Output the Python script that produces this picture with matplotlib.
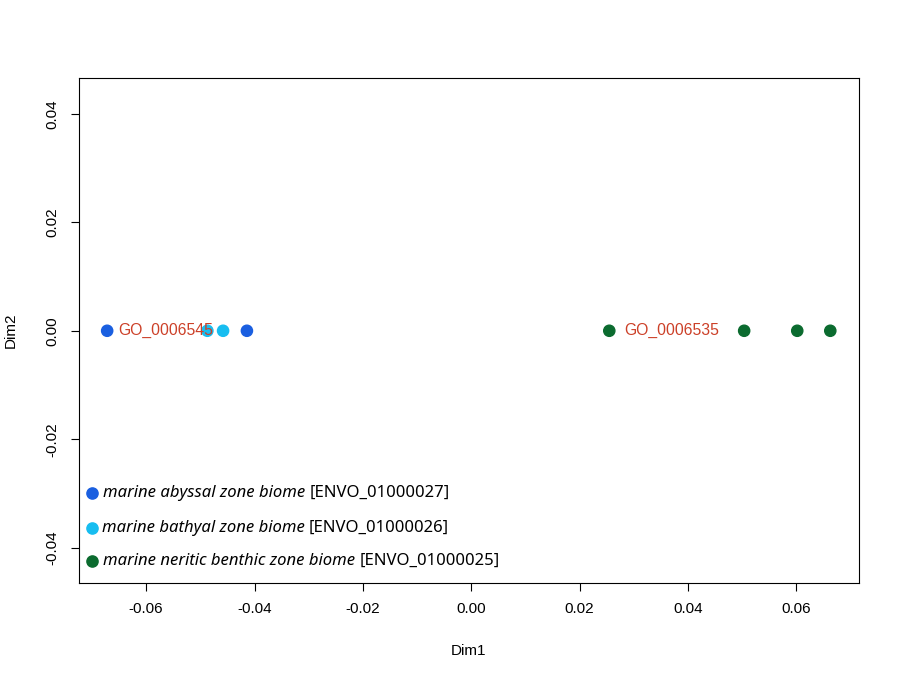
import matplotlib
matplotlib.use("Agg")
import matplotlib.pyplot as plt

plt.rcParams["font.family"] = ["Liberation Sans", "DejaVu Sans"]

dim1 = [-0.0672, -0.0414, -0.0487, -0.0458, 0.0255, 0.0504, 0.0602, 0.0663]
dim2 = [0.0, 0.0, 0.0, 0.0, 0.0, 0.0, 0.0, 0.0]
groups = ["abyssal", "abyssal", "bathyal", "bathyal", "neritic", "neritic", "neritic", "neritic"]
colors = {"abyssal": "#1a5fe0", "bathyal": "#17bdf0", "neritic": "#0b6b2f"}

go_labels = ["GO_0006545", "GO_0006535"]
go_x = [-0.0652, 0.0283]
go_y = [0.0, 0.0]

legend_names = ["marine abyssal zone biome", "marine bathyal zone biome", "marine neritic benthic zone biome"]
legend_ids = ["[ENVO_01000027]", "[ENVO_01000026]", "[ENVO_01000025]"]
legend_groups = ["abyssal", "bathyal", "neritic"]
legend_y = [-0.0299, -0.0363, -0.0424]
legend_x = -0.0700

fig = plt.figure(figsize=(9, 6.82), dpi=100)
ax = fig.add_axes([79 / 900, 1 - 583 / 682, 780 / 900, 505 / 682])

ax.scatter(dim1, dim2, c=[colors[g] for g in groups], s=65, zorder=3)
for lab, x, y in zip(go_labels, go_x, go_y):
    ax.text(x, y, lab, color="#cc4028", fontsize=11.3, va="center", ha="left")

ax.set_xlim(-0.0724, 0.0716)
ax.set_ylim(-0.0465, 0.0466)
ax.set_xticks([-0.06, -0.04, -0.02, 0.0, 0.02, 0.04, 0.06])
ax.set_xticklabels(["-0.06", "-0.04", "-0.02", "0.00", "0.02", "0.04", "0.06"])
ax.set_yticks([-0.04, -0.02, 0.0, 0.02, 0.04])
ax.set_yticklabels(["-0.04", "-0.02", "0.00", "0.02", "0.04"], rotation=90, va="center")
ax.tick_params(labelsize=11, length=6, pad=8)
ax.set_xlabel("Dim1", fontsize=11, labelpad=20)
ax.set_ylabel("Dim2", fontsize=11, labelpad=20)

fig.canvas.draw()
renderer = fig.canvas.get_renderer()
for i, (name, eid, g, y) in enumerate(zip(legend_names, legend_ids, legend_groups, legend_y)):
    ax.scatter([legend_x], [y], c=colors[g], s=65, zorder=3, clip_on=False)
    start = legend_x + (0.0018 if i == 1 else 0.0021)
    t = ax.text(start, y, name, fontsize=12, style="italic",
                family=["Noto Sans", "DejaVu Sans"], va="center", ha="left")
    bb = t.get_window_extent(renderer)
    x_end = ax.transData.inverted().transform((bb.x1, bb.y0))[0]
    ax.text(x_end + 0.0008, y, eid, fontsize=12, family=["Noto Sans", "DejaVu Sans"],
            va="center", ha="left")

fig.savefig("out.png")
